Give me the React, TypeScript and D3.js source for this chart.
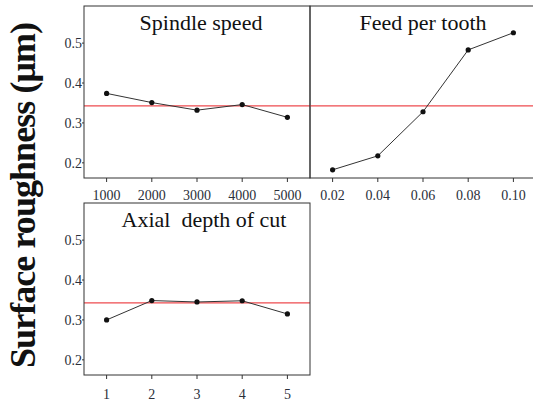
import React from "react";
import * as d3 from "d3";

// main effects of each factor on surface roughness
const spindleSpeed = [1000, 2000, 3000, 4000, 5000];
const spindleMean = [0.374, 0.351, 0.332, 0.346, 0.314];

const feedPerTooth = [0.02, 0.04, 0.06, 0.08, 0.1];
const feedMean = [0.1825, 0.2175, 0.328, 0.483, 0.526];

const axialDepth = [1, 2, 3, 4, 5];
const axialMean = [0.3, 0.3485, 0.345, 0.348, 0.315];

const grandMean = 0.3425;
const yTicks = [0.2, 0.3, 0.4, 0.5];

const serif = "'Liberation Serif', 'Times New Roman', serif";

type PanelProps = {
  x0: number; x1: number; y0: number; y1: number;
  xs: number[]; ys: number[]; xDomain: [number, number];
  fmt: (v: number) => string; title: string; titleDx: number; showY: boolean; labelOffset: number;
};

const Panel = ({ x0, x1, y0, y1, xs, ys, xDomain, fmt, title, titleDx, showY, labelOffset }: PanelProps) => {
  const x = d3.scaleLinear().domain(xDomain).range([x0, x1]);
  const y = d3.scaleLinear().domain([0.162, 0.593]).range([y1, y0]);
  const line = d3.line<number>().x((_, i) => x(xs[i])).y((d) => y(d));

  return (
    <g>
      <line x1={x0} x2={x1} y1={y(grandMean)} y2={y(grandMean)} stroke="#ee4b4f" strokeWidth={1.2} />
      <path d={line(ys) || ""} fill="none" stroke="#333" strokeWidth={1} />
      {ys.map((d, i) => (
        <circle key={i} cx={x(xs[i])} cy={y(d)} r={2.6} fill="#111" />
      ))}
      <rect x={x0} y={y0} width={x1 - x0} height={y1 - y0} fill="none" stroke="#333" strokeWidth={1} />
      {xs.map((v) => (
        <g key={v}>
          <line x1={x(v)} x2={x(v)} y1={y1} y2={y1 + 4} stroke="#333" />
          <text x={x(v)} y={y1 + labelOffset} textAnchor="middle" fontSize={14} fontFamily={serif} fill="#2b2f3a">
            {fmt(v)}
          </text>
        </g>
      ))}
      {showY &&
        yTicks.map((v) => (
          <g key={v}>
            <line x1={x0 - 2} x2={x0} y1={y(v)} y2={y(v)} stroke="#333" />
            <text x={x0 - 2} y={y(v) + 5} textAnchor="end" fontSize={14} fontFamily={serif} fill="#2b2f3a">
              {v.toFixed(1)}
            </text>
          </g>
        ))}
      <text x={(x0 + x1) / 2 + titleDx} y={y0 + 24} textAnchor="middle" fontSize={22} fontFamily={serif} fill="#111" xmlSpace="preserve">
        {title}
      </text>
    </g>
  );
};

export default function App() {
  return (
    <svg width={533} height={402} style={{ position: "absolute", left: 0, top: 0, background: "#fff" }}>
      <Panel x0={84} x1={310} y0={6} y1={178} xs={spindleSpeed} ys={spindleMean} xDomain={[500, 5500]}
        fmt={(v) => String(v)} title="Spindle speed" titleDx={4} showY labelOffset={22} />
      <Panel x0={310} x1={536} y0={6} y1={178} xs={feedPerTooth} ys={feedMean} xDomain={[0.01, 0.11]}
        fmt={(v) => v.toFixed(2)} title="Feed per tooth" titleDx={0} showY={false} labelOffset={22} />
      <Panel x0={84} x1={310} y0={203} y1={375} xs={axialDepth} ys={axialMean} xDomain={[0.5, 5.5]}
        fmt={(v) => String(v)} title="Axial  depth of cut" titleDx={7} showY labelOffset={24} />
      <text transform="translate(35,195) rotate(-90)" textAnchor="middle" fontSize={36} fontWeight="bold"
        fontFamily={serif} fill="#111" textLength={346} lengthAdjust="spacing">
        Surface roughness (μm)
      </text>
    </svg>
  );
}
